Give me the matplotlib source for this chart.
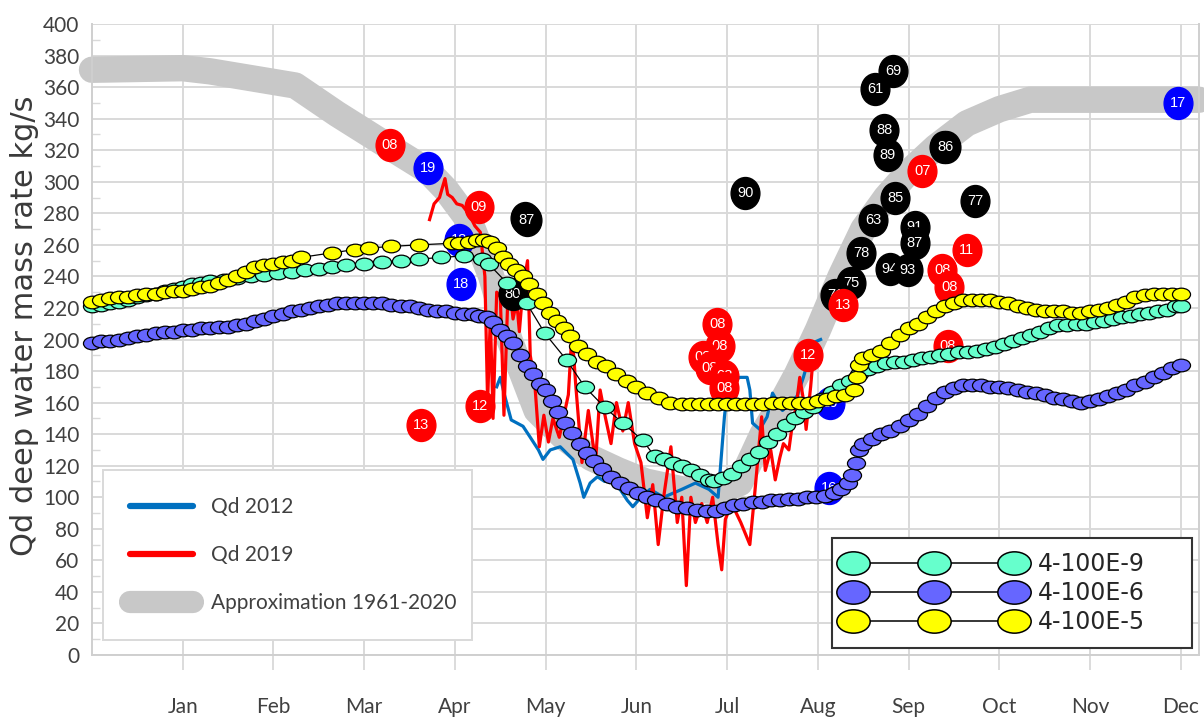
import numpy as np
import matplotlib
matplotlib.use("Agg")
import matplotlib.pyplot as plt
from matplotlib.path import Path
from matplotlib.lines import Line2D

# ---------------- data ----------------
month_labels = ["Jan", "Feb", "Mar", "Apr", "May", "Jun",
                "Jul", "Aug", "Sep", "Oct", "Nov", "Dec"]
month_pos = [1, 2, 3, 4, 5, 6, 7, 8, 9, 10, 11, 12]

approx_x = [0.0, 1.0, 1.3, 2.24, 2.7, 3.28, 3.7, 3.9, 4.17, 4.4, 4.6, 4.9, 5.2, 5.5,
            5.8, 6.1, 6.5, 6.9, 7.14, 7.39, 7.6, 7.77, 8.0, 8.25, 8.5, 8.75, 8.98,
            9.3, 9.64, 10.0, 10.34, 11.0, 12.2]
approx_y = [371, 372, 370, 361, 343, 322, 307, 295, 274, 240, 200, 155, 138, 125,
            117, 110, 105, 104, 109, 140, 160, 178, 206, 240, 270, 290, 305,
            322, 337, 346, 352, 352, 352]

q2012_x = [4.46, 4.50, 4.55, 4.62, 4.75, 4.83, 4.92, 4.97, 5.05, 5.16,
           5.30, 5.38, 5.42, 5.49, 5.57, 5.65, 5.74, 5.82, 5.90, 5.96,
           6.05, 6.15, 6.30, 6.50, 6.65, 6.80, 6.90, 6.97, 7.01, 7.14,
           7.22, 7.25, 7.28, 7.36, 7.44, 7.50, 7.56, 7.61, 7.69, 7.77,
           7.84, 7.95, 8.03]
q2012_y = [170, 176, 164, 149, 145, 138, 130, 124, 130, 132,
           124, 109, 100, 109, 113, 110, 113, 105, 98, 94,
           100, 105, 100, 105, 109, 105, 100, 151, 172, 176,
           176, 168, 147, 143, 151, 166, 160, 155, 160, 164,
           176, 198, 200]

q2019_x = [3.72, 3.77, 3.83, 3.89, 3.92, 3.97, 4.02, 4.08, 4.15, 4.22,
           4.28, 4.33, 4.36, 4.39, 4.42, 4.46, 4.50, 4.54, 4.58, 4.61,
           4.64, 4.68, 4.71, 4.75, 4.80, 4.83, 4.88, 4.93, 4.98, 5.03,
           5.08, 5.15, 5.25, 5.29, 5.33, 5.40, 5.47, 5.55, 5.60, 5.66,
           5.72, 5.78, 5.85, 5.91, 5.98, 6.05, 6.12, 6.18, 6.24, 6.30,
           6.38, 6.45, 6.50, 6.55, 6.60, 6.65, 6.72, 6.78, 6.84, 6.90,
           6.94, 6.98, 7.05, 7.15, 7.25, 7.30, 7.38, 7.42, 7.48, 7.53,
           7.58, 7.62, 7.68, 7.72, 7.76, 7.80, 7.84, 7.87, 7.92, 7.95]
q2019_y = [276, 286, 290, 302, 292, 290, 286, 285, 280, 272,
           268, 240, 160, 215, 150, 230, 227, 152, 222, 230,
           213, 224, 205, 233, 250, 190, 172, 132, 152, 135,
           150, 138, 165, 205, 172, 122, 155, 122, 168, 150,
           134, 160, 142, 160, 134, 122, 87, 108, 70, 100,
           132, 84, 100, 44, 100, 84, 96, 84, 100, 70,
           54, 86, 96, 84, 70, 100, 151, 117, 130, 111,
           125, 134, 130, 147, 157, 176, 162, 143, 170, 190]

e9_x = [0.0, 0.1, 0.2, 0.3, 0.4, 0.5, 0.6, 0.7, 0.8, 0.9,
        1.0, 1.1, 1.2, 1.3, 1.45, 1.6, 1.75, 1.9, 2.05, 2.2,
        2.35, 2.5, 2.65, 2.8, 3.0, 3.2, 3.4, 3.6, 3.85, 4.1,
        4.3, 4.37, 4.57, 4.79, 4.99, 5.23, 5.43, 5.65, 5.85, 6.07,
        6.2, 6.3, 6.4, 6.5, 6.6, 6.7, 6.8, 6.85, 6.95, 7.05,
        7.15, 7.25, 7.35, 7.45, 7.55, 7.65, 7.75, 7.85, 7.95, 8.05,
        8.15, 8.25, 8.35, 8.45, 8.55, 8.65, 8.75, 8.85, 8.95, 9.05,
        9.15, 9.25, 9.35, 9.45, 9.55, 9.65, 9.75, 9.85, 9.95, 10.05,
        10.15, 10.25, 10.35, 10.45, 10.55, 10.65, 10.75, 10.85, 10.95, 11.05,
        11.15, 11.25, 11.35, 11.45, 11.55, 11.65, 11.75, 11.85, 11.95, 12.0]
e9_y = [221, 222, 223, 224, 225, 227, 228, 229, 231, 232,
        233, 235, 236, 237, 238, 239, 240, 241, 242, 243,
        244, 245, 246, 247, 248, 249, 250, 251, 252, 253,
        251, 248, 236, 223, 204, 187, 170, 157, 147, 136,
        126, 124, 122, 120, 117, 114, 111, 110, 112, 115,
        120, 124, 129, 135, 140, 146, 150, 154, 157, 162,
        167, 171, 174, 178, 181, 183, 185, 186, 186, 187,
        188, 189, 190, 191, 192, 192, 193, 194, 195, 197,
        199, 201, 203, 205, 207, 209, 209, 210, 210, 211,
        212, 213, 214, 215, 216, 217, 218, 219, 221, 221]

e6_x = [0.0, 0.1, 0.2, 0.3, 0.4, 0.5, 0.6, 0.7, 0.8, 0.9,
        1.0, 1.1, 1.2, 1.3, 1.4, 1.5, 1.6, 1.7, 1.8, 1.9,
        2.0, 2.1, 2.2, 2.3, 2.4, 2.5, 2.6, 2.7, 2.8, 2.9,
        3.0, 3.1, 3.2, 3.3, 3.4, 3.5, 3.6, 3.7, 3.8, 3.9,
        4.0, 4.1, 4.2,
        4.27, 4.35, 4.42, 4.5, 4.57, 4.64, 4.72, 4.79, 4.86, 4.94,
        5.0, 5.07, 5.14, 5.21, 5.29, 5.38, 5.45, 5.53, 5.62, 5.72,
        5.82, 5.92, 6.02, 6.12, 6.22, 6.34, 6.45, 6.56, 6.67, 6.78,
        6.88, 6.98, 7.08, 7.18, 7.28, 7.38, 7.48, 7.58, 7.68, 7.78,
        7.88, 7.98, 8.08, 8.18, 8.26, 8.33, 8.38, 8.42, 8.45, 8.5,
        8.6, 8.7, 8.8, 8.9, 9.0, 9.1, 9.2, 9.3, 9.4, 9.5,
        9.6, 9.7, 9.8, 9.9, 10.0, 10.1, 10.2, 10.3, 10.4, 10.5,
        10.6, 10.7, 10.8, 10.9, 11.0, 11.1, 11.2, 11.3, 11.4, 11.5,
        11.6, 11.7, 11.8, 11.9, 12.0]
e6_y = [198, 199, 199, 200, 201, 202, 203, 204, 205, 205,
        206, 206, 207, 207, 208, 208, 209, 210, 212, 213,
        215, 216, 218, 219, 220, 221, 222, 223, 223, 223,
        223, 223, 223, 222, 221, 221, 220, 219, 218, 218,
        217, 216, 216,
        215, 214, 211, 206, 202, 198, 190, 183, 178, 172,
        168, 161, 154, 147, 141, 134, 128, 123, 118, 113,
        109, 106, 103, 100, 98, 96, 94, 93, 92, 91,
        91, 93, 95, 96, 97, 97, 98, 98, 99, 99,
        100, 100, 101, 103, 105, 109, 114, 122, 130, 134,
        137, 140, 142, 145, 149, 153, 158, 163, 167, 169,
        171, 171, 171, 170, 170, 169, 168, 167, 166, 165,
        163, 162, 161, 160, 161, 162, 164, 166, 168, 171,
        173, 176, 179, 182, 184]

e5_x = [0.0, 0.1, 0.2, 0.3, 0.4, 0.5, 0.6, 0.7, 0.8, 0.9,
        1.0, 1.1, 1.2, 1.3, 1.4, 1.5, 1.6, 1.7, 1.8, 1.9,
        2.0, 2.1, 2.2, 2.3, 2.65, 2.9, 3.05, 3.3, 3.6, 3.97,
        4.05, 4.15, 4.24, 4.32, 4.39, 4.46, 4.53, 4.6, 4.67, 4.75,
        4.82, 4.9, 4.97, 5.05, 5.12, 5.2, 5.27, 5.36, 5.45, 5.56,
        5.67, 5.78, 5.9, 6.0, 6.12, 6.25, 6.37, 6.5, 6.6, 6.7,
        6.8, 6.9, 7.0, 7.1, 7.2, 7.3, 7.4, 7.5, 7.6, 7.7,
        7.8, 7.9, 8.0, 8.1, 8.2, 8.3, 8.4, 8.43, 8.45, 8.5,
        8.6, 8.7, 8.8, 8.9, 9.0, 9.1, 9.2, 9.3, 9.4, 9.5,
        9.6, 9.7, 9.8, 9.9, 10.0, 10.1, 10.2, 10.3, 10.4, 10.5,
        10.6, 10.7, 10.8, 10.9, 11.0, 11.1, 11.2, 11.3, 11.4, 11.5,
        11.6, 11.7, 11.8, 11.9, 12.0]
e5_y = [224, 225, 226, 227, 227, 228, 229, 229, 230, 231,
        231, 232, 233, 234, 236, 238, 240, 243, 246, 247,
        248, 249, 250, 252, 255, 257, 258, 259, 260, 261,
        261, 262, 263, 263, 262, 258, 252, 248, 244, 240,
        235, 229, 223, 217, 212, 207, 202, 196, 191, 186,
        183, 178, 174, 170, 166, 163, 160, 159, 159, 159,
        159, 159, 159, 159, 159, 159, 159, 160, 160, 160,
        160, 160, 161, 162, 164, 165, 168, 176, 184, 188,
        190, 193, 198, 203, 207, 210, 214, 218, 221, 223,
        225, 225, 225, 225, 224, 223, 221, 220, 219, 218,
        218, 218, 217, 217, 218, 219, 220, 222, 224, 227,
        228, 229, 229, 229, 229]

# year-labelled points
black_x = [8.63, 8.83, 8.73, 8.77, 8.85, 8.61, 8.48, 8.37, 8.19, 8.79,
           8.99, 9.07, 9.07, 9.39, 9.41, 9.73, 7.20, 4.77, 4.79, 4.64]
black_y = [359, 370, 333, 317, 290, 276, 255, 236, 228, 245,
           244, 271, 261, 322, 322, 288, 293, 277, 276, 229]
black_t = ["61", "69", "88", "89", "85", "63", "78", "75", "71", "94",
           "93", "91", "87", "84", "86", "77", "90", "89", "87", "80"]

blue_x = [3.70, 4.07, 4.05, 8.13, 8.12, 11.97]
blue_y = [309, 235, 263, 160, 106, 350]
blue_t = ["19", "18", "18", "16", "16", "17"]

red_x = [3.28, 4.26, 4.28, 3.63, 6.89, 6.92, 6.73, 6.81, 6.97, 6.97,
         7.89, 8.28, 9.15, 9.64, 9.37, 9.45, 9.43]
red_y = [323, 284, 158, 146, 210, 196, 189, 182, 177, 169,
         190, 222, 307, 257, 244, 233, 196]
red_t = ["08", "09", "12", "13", "08", "08", "08", "08", "08", "08",
         "12", "13", "07", "11", "08", "08", "08"]

legend1_labels = ["Qd 2012", "Qd 2019", "Approximation 1961-2020"]
legend2_labels = ["4-100E-9", "4-100E-6", "4-100E-5"]

# ---------------- styling ----------------
plt.rcParams['font.family'] = ['Lato', 'DejaVu Sans']
W, H = 1204, 720
fig = plt.figure(figsize=(W / 100, H / 100), dpi=100)
ax = fig.add_axes([92 / W, 65 / H, 1107 / W, 631 / H])
ax.set_xlim(0, 12.2)
ax.set_ylim(0, 400)

grid_c = '#d9d9d9'
txt_c = '#404040'
ax.set_xticks(month_pos)
ax.set_xticklabels(month_labels)
ax.set_yticks(np.arange(0, 401, 20))
ax.set_yticks(np.arange(10, 400, 20), minor=True)
ax.grid(True, which='major', color=grid_c, lw=1.4)
ax.set_axisbelow(True)
ax.tick_params(axis='x', which='major', length=11, width=1.3, color=grid_c,
               pad=19, labelsize=15, labelcolor=txt_c)
ax.tick_params(axis='x', which='minor', length=0)
ax.tick_params(axis='y', which='major', length=0, pad=9, labelsize=15,
               labelcolor=txt_c)
ax.tick_params(axis='y', which='minor', direction='in', length=6, width=1,
               color=grid_c)
for s in ['left', 'bottom', 'right']:
    ax.spines[s].set_color('#cfcfcf')
    ax.spines[s].set_linewidth(1.4)
ax.spines['top'].set_visible(False)

fig.text(25 / W, 1 - 326 / H, "Qd deep water mass rate kg/s", rotation=90,
         ha='center', va='center', fontsize=22, color='#3a3a3a',
         family='DejaVu Sans')

gray_c = '#c8c8c8'
ax.plot(approx_x, approx_y, color=gray_c, lw=19, solid_capstyle='round',
        solid_joinstyle='round', zorder=1, clip_on=False)
ax.plot(q2012_x, q2012_y, color='#0070C0', lw=2.3, zorder=2)
ax.plot(q2019_x, q2019_y, color='#FF0000', lw=2.3, zorder=2.2)

circ = Path.unit_circle()
lbl_marker = Path(circ.vertices * np.array([0.9, 1.0]), circ.codes)
ser_marker = Path(circ.vertices * np.array([1.0, 0.7]), circ.codes)

z = 3.0
for xs, ys, ts, col in [(black_x, black_y, black_t, 'black'),
                        (blue_x, blue_y, blue_t, '#0000FF'),
                        (red_x, red_y, red_t, '#FF0000')]:
    for xv, yv, tv in zip(xs, ys, ts):
        ax.plot([xv], [yv], ls='none', marker=lbl_marker, ms=23, mfc=col,
                mec=col, zorder=z)
        ax.text(xv, yv, tv, ha='center', va='center', color='white',
                fontsize=10.5, family='Liberation Sans', zorder=z + 0.0005)
        z += 0.001

series = [(e6_x, e6_y, '#6666FF', 5), (e9_x, e9_y, '#66FFCC', 6),
          (e5_x, e5_y, '#FFFF00', 7)]
for xs, ys, col, zz in series:
    ax.plot(xs, ys, color='black', lw=0.9, marker=ser_marker, ms=13,
            mfc=col, mec='black', mew=0.9, zorder=zz, clip_on=False)

# legends
h1 = [Line2D([], [], color='#0070C0', lw=4.5, solid_capstyle='round'),
      Line2D([], [], color='#FF0000', lw=4.5, solid_capstyle='round'),
      Line2D([], [], color=gray_c, lw=16, solid_capstyle='round')]
leg1 = ax.legend(h1, legend1_labels, loc='upper left',
                 bbox_to_anchor=(11 / 1107, 7 / 631, 369 / 1107, 178 / 631),
                 mode='expand', borderaxespad=0,
                 prop={'family': 'Lato', 'size': 15}, labelcolor=txt_c,
                 handlelength=3.0, handletextpad=0.9, labelspacing=1.35,
                 borderpad=1.3, fancybox=False, edgecolor=grid_c, framealpha=1)
leg1.get_frame().set_linewidth(1.4)
leg1.set_zorder(20)
ax.add_artist(leg1)

h2 = [Line2D([], [], color='black', lw=1.1, marker=ser_marker, ms=24, mfc=c,
             mec='black', mew=1.1) for c in ['#66FFCC', '#6666FF', '#FFFF00']]
leg2 = ax.legend(h2, legend2_labels, loc='lower left',
                 bbox_to_anchor=(740 / 1107, 7 / 631, 360 / 1107, 106 / 631),
                 mode='expand', borderaxespad=0, numpoints=3,
                 prop={'family': 'DejaVu Sans', 'size': 17}, labelcolor='#262626',
                 handlelength=7.4, handletextpad=0.7, labelspacing=0.2,
                 borderpad=0.6, fancybox=False, edgecolor='#333333', framealpha=1)
leg2.get_frame().set_linewidth(1.5)
leg2.set_zorder(20)

fig.savefig("out.png", dpi=100)
